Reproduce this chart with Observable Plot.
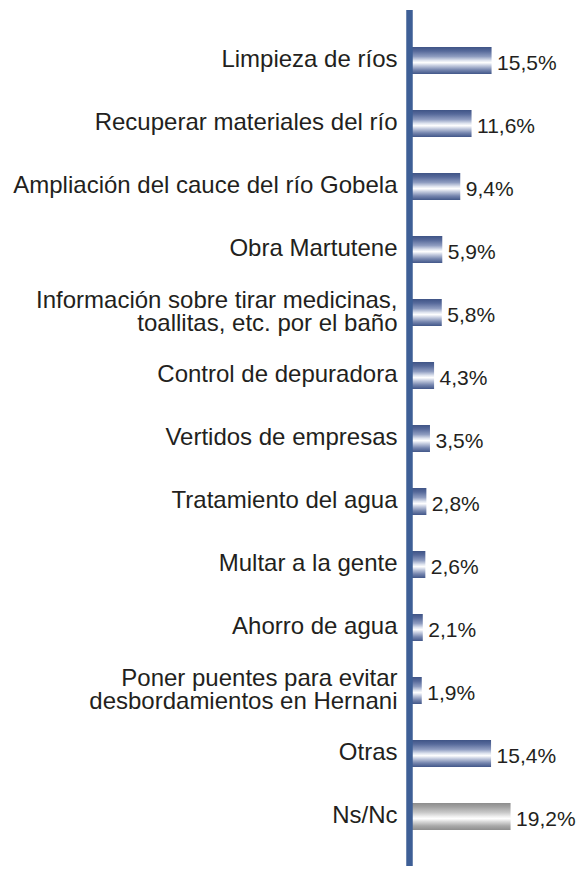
<!DOCTYPE html>
<html>
<head>
<meta charset="utf-8">
<script src="https://cdn.jsdelivr.net/npm/d3@7"></script>
<script src="https://cdn.jsdelivr.net/npm/@observablehq/plot@0.6"></script>
<style>
  html, body { margin: 0; padding: 0; background: #fff; }
  #chart svg { display: block; }
</style>
</head>
<body>
<div id="chart"></div>
<script>
const categories = [
  "Limpieza de ríos",
  "Recuperar materiales del río",
  "Ampliación del cauce del río Gobela",
  "Obra Martutene",
  "Información sobre tirar medicinas,\ntoallitas, etc. por el baño",
  "Control de depuradora",
  "Vertidos de empresas",
  "Tratamiento del agua",
  "Multar a la gente",
  "Ahorro de agua",
  "Poner puentes para evitar\ndesbordamientos en Hernani",
  "Otras",
  "Ns/Nc"
];
const values = [15.5, 11.6, 9.4, 5.9, 5.8, 4.3, 3.5, 2.8, 2.6, 2.1, 1.9, 15.4, 19.2];
const greyCategory = "Ns/Nc";

const data = categories.map((c, i) => ({cat: c, value: values[i]}));
const blueData = data.filter(d => d.cat !== greyCategory);
const greyData = data.filter(d => d.cat === greyCategory);
const fmt = v => v.toFixed(1).replace(".", ",") + "%";

const font = "'Liberation Sans', Arial, Helvetica, sans-serif";

const svg = Plot.plot({
  width: 577,
  height: 872,
  marginLeft: 412,
  marginRight: 11,
  marginTop: 10,
  marginBottom: 6,
  style: {fontFamily: font, background: "#fff"},
  x: {domain: [0, 30], axis: null},
  y: {domain: categories, axis: null, padding: 0.572},
  marks: [
    Plot.barX(blueData, {x: "value", y: "cat", fill: "url(#gBlue)"}),
    Plot.barX(greyData, {x: "value", y: "cat", fill: "url(#gGrey)"}),
    Plot.ruleX([0], {stroke: "#3e5f96", strokeWidth: 6.5, dx: -3}),
    Plot.text(data, {
      x: "value", y: "cat", text: d => fmt(d.value),
      textAnchor: "start", dx: 5, dy: 2, fontSize: 21, fill: "#231f20"
    }),
    Plot.text(data, {
      x: 0, y: "cat", text: "cat",
      textAnchor: "end", dx: -15, dy: -1, fontSize: 24, lineHeight: 0.96, fill: "#231f20"
    })
  ]
});

const defs = d3.select(svg).insert("defs", ":first-child");
function grad(id, stops) {
  const g = defs.append("linearGradient").attr("id", id)
    .attr("x1", 0).attr("y1", 0).attr("x2", 0).attr("y2", 1);
  stops.forEach(([o, c]) => g.append("stop").attr("offset", o).attr("stop-color", c));
}
grad("gBlue", [
  [0, "#3f5486"], [0.15, "#56699a"], [0.35, "#8e9cc0"], [0.5, "#dfe4ef"],
  [0.58, "#ffffff"], [0.68, "#c9d0e2"], [0.85, "#7585ae"], [1, "#425789"]
]);
grad("gGrey", [
  [0, "#8c8c8c"], [0.15, "#a2a2a2"], [0.35, "#c8c8c8"], [0.5, "#efefef"],
  [0.58, "#ffffff"], [0.68, "#dcdcdc"], [0.85, "#a8a8a8"], [1, "#8e8e8e"]
]);

document.getElementById("chart").appendChild(svg);
</script>
</body>
</html>
